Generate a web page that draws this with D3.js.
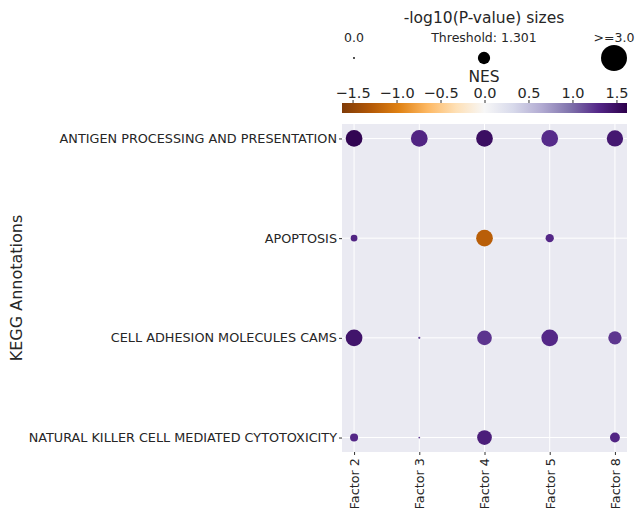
<!DOCTYPE html>
<html><head><meta charset="utf-8">
<script src="https://cdn.jsdelivr.net/npm/d3@7"></script>
<style>body{margin:0;background:#fff}svg{font-family:"DejaVu Sans",sans-serif}</style>
</head><body><svg id="c" width="637" height="508"></svg>
<script>
const factors = ["Factor 2","Factor 3","Factor 4","Factor 5","Factor 8"];
const pathways = ["ANTIGEN PROCESSING AND PRESENTATION","APOPTOSIS","CELL ADHESION MOLECULES CAMS","NATURAL KILLER CELL MEDIATED CYTOTOXICITY"];
// -log10(p) per pathway x factor (null = not shown)
const logP = [
  [1.85,1.85,1.85,1.85,1.80],
  [0.60,null,1.85,0.80,null],
  [1.85,0.05,1.60,1.85,1.43],
  [0.77,0.00,1.60,null,1.00]
];
const nes = [
  [1.58,1.32,1.50,1.28,1.42],
  [1.32,null,-1.25,1.30,null],
  [1.45,1.20,1.24,1.30,1.23],
  [1.30,1.20,1.37,null,1.32]
];
const cbTicks = [-1.5,-1.0,-0.5,0.0,0.5,1.0,1.5];
const sizeLegend = [{v:0,label:"0.0"},{v:1.301,label:"Threshold: 1.301"},{v:3,label:">=3.0"}];
const puor = ["#7f3b08","#b35806","#e08214","#fdb863","#fee0b6","#f7f7f7","#d8daeb","#b2abd2","#8073ac","#542788","#2d004b"];
const vmax = 1.62;

const svg = d3.select("#c");
const L=342,R=627,T=124,B=452;
const x = d3.scalePoint().domain(factors).range([L,R]).padding(0.185);
const y = d3.scalePoint().domain(pathways).range([T,B]).padding(0.145);
const color = d3.scaleLinear().domain(d3.range(11).map(i=>-vmax+i*2*vmax/10)).range(puor).interpolate(d3.interpolateRgb).clamp(true);
const rad = v => (1.8 + 8.06*Math.min(v,3))/2;

svg.append("rect").attr("x",L).attr("y",T).attr("width",R-L).attr("height",B-T).attr("fill","#eaeaf2");
const g = svg.append("g");
g.selectAll(".vx").data(factors).join("line").attr("x1",d=>x(d)).attr("x2",d=>x(d)).attr("y1",T).attr("y2",B).attr("stroke","#fff").attr("stroke-width",1);
g.selectAll(".hy").data(pathways).join("line").attr("y1",d=>y(d)).attr("y2",d=>y(d)).attr("x1",L).attr("x2",R).attr("stroke","#fff").attr("stroke-width",1);

const pts=[];
pathways.forEach((p,i)=>factors.forEach((f,j)=>{ if(logP[i][j]!==null) pts.push({p,f,s:logP[i][j],c:nes[i][j]}); }));
g.selectAll("circle.pt").data(pts).join("circle").attr("class","pt")
 .attr("cx",d=>x(d.f)).attr("cy",d=>y(d.p)).attr("r",d=>rad(d.s)).attr("fill",d=>color(d.c));

// axes
const ya = svg.append("g").attr("transform",`translate(${L},0)`).call(d3.axisLeft(y).tickSize(3).tickPadding(2));
ya.select(".domain").remove();
ya.selectAll("text").attr("font-size","12.8px").attr("fill","#262626").attr("font-family","DejaVu Sans");
ya.selectAll("line").attr("stroke","#333");
const xa = svg.append("g").attr("transform",`translate(0,${B})`).call(d3.axisBottom(x).tickSize(3).tickPadding(2));
xa.select(".domain").remove();
xa.selectAll("line").attr("stroke","#333");
xa.selectAll("text").attr("font-size","12.8px").attr("fill","#262626").attr("font-family","DejaVu Sans")
  .attr("transform","rotate(-90)").attr("text-anchor","end").attr("dy","0.35em").attr("x",-6).attr("y",0);
svg.append("text").attr("transform","translate(22,288) rotate(-90)").attr("text-anchor","middle")
  .attr("font-size","16px").attr("fill","#262626").text("KEGG Annotations");

// colorbar
const cx = d3.scaleLinear().domain([-vmax,vmax]).range([L,R]);
const defs = svg.append("defs");
const grad = defs.append("linearGradient").attr("id","cb");
puor.forEach((c,i)=>grad.append("stop").attr("offset",(i*10)+"%").attr("stop-color",c));
svg.append("rect").attr("x",L).attr("y",103).attr("width",R-L).attr("height",10).attr("fill","url(#cb)");
const ca = svg.append("g").attr("transform","translate(0,103)").call(d3.axisTop(cx).tickValues(cbTicks).tickFormat(d3.format(".1f")).tickSize(3).tickPadding(2));
ca.select(".domain").remove();
ca.selectAll("line").attr("stroke","#333");
ca.selectAll("text").attr("font-size","14.5px").attr("fill","#262626").attr("font-family","DejaVu Sans");
svg.append("text").attr("x",484).attr("y",82).attr("text-anchor","middle").attr("font-size","15.5px").attr("fill","#262626").text("NES");

// size legend
svg.append("text").attr("x",484).attr("y",23).attr("text-anchor","middle").attr("font-size","15.5px").attr("fill","#262626").text("-log10(P-value) sizes");
const sx = d3.scalePoint().domain(sizeLegend.map(d=>d.label)).range([354,614]);
svg.selectAll("circle.lg").data(sizeLegend).join("circle").attr("class","lg")
  .attr("cx",d=>sx(d.label)).attr("cy",58).attr("r",d=>rad(d.v)).attr("fill","#000");
svg.selectAll("text.lg").data(sizeLegend).join("text").attr("class","lg")
  .attr("x",d=>sx(d.label)).attr("y",42).attr("text-anchor","middle").attr("font-size","12.5px").attr("fill","#262626").text(d=>d.label);
</script></body></html>
